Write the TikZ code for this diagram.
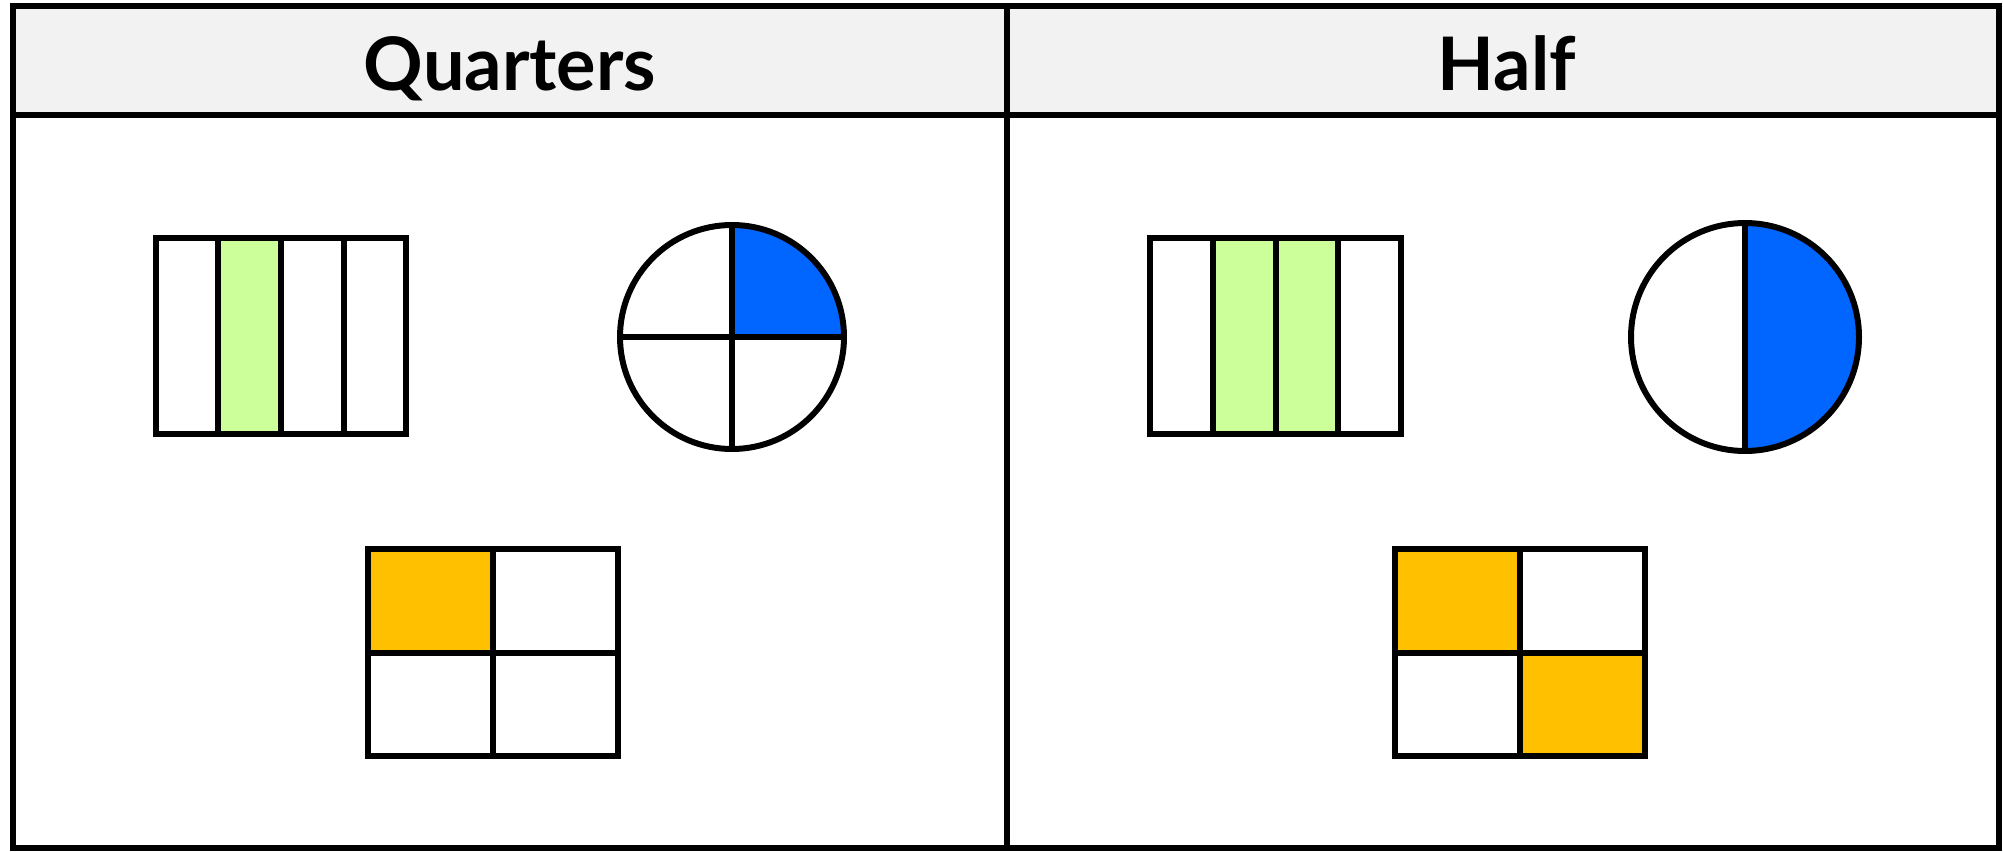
\documentclass[tikz,border=0pt]{standalone}
\usepackage{fontspec}
\setmainfont{Lato}
\definecolor{Lime}{HTML}{CCFF99}
\definecolor{Azure}{HTML}{0066FF}
\definecolor{Amber}{HTML}{FFC000}
\definecolor{Grey5}{HTML}{F2F2F2}
\usetikzlibrary{positioning}

\begin{document}
\begin{tikzpicture}[x=0.01cm,y=-0.01cm,line width=1.7pt,
    heading/.style={font=\fontsize{21}{25}\selectfont\bfseries,anchor=base,inner sep=0pt}]
    \useasboundingbox (0,0) rectangle (2003,851);
    % Table frame and header row
    \fill[Grey5] (13,6) rectangle (1999,115);
    \draw (13,6) rectangle (1999,848);
    \draw (13,115) -- (1999,115);
    \draw (1007,6) -- (1007,848);
    \node[heading] (quarters) at (510,90) {Quarters};
    \node[heading] (half) at (1507,90) {Half};

    % Quarters: strips
    \fill[Lime] (218,238) rectangle (281,434);
    \draw (156,238) rectangle (406,434);
    \foreach \x in {218,281,344} \draw (\x,238) -- (\x,434);
    % Quarters: circle
    \fill[Azure] (732,337) -- (844,337) arc[start angle=0,end angle=-90,radius=112] -- cycle;
    \draw (732,337) circle[radius=112];
    \draw (620,337) -- (844,337);
    \draw (732,225) -- (732,449);
    % Quarters: grid
    \fill[Amber] (368,549) rectangle (493,653);
    \draw (368,549) rectangle (618,756);
    \draw (493,549) -- (493,756);
    \draw (368,653) -- (618,653);

    % Half: strips
    \fill[Lime] (1213,238) rectangle (1338,434);
    \draw (1150,238) rectangle (1401,434);
    \foreach \x in {1213,1276,1338} \draw (\x,238) -- (\x,434);
    % Half: circle
    \fill[Azure] (1745,223) arc[start angle=-90,end angle=90,radius=114] -- cycle;
    \draw (1745,337) circle[radius=114];
    \draw (1745,223) -- (1745,451);
    % Half: grid
    \fill[Amber] (1395,549) rectangle (1520,653);
    \fill[Amber] (1520,653) rectangle (1645,756);
    \draw (1395,549) rectangle (1645,756);
    \draw (1520,549) -- (1520,756);
    \draw (1395,653) -- (1645,653);
\end{tikzpicture}
\end{document}
